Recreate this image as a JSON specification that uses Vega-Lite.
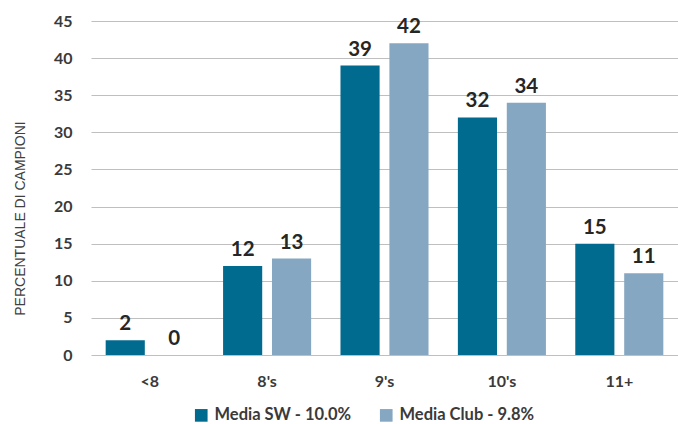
{
  "$schema": "https://vega.github.io/schema/vega-lite/v6.json",
  "width": 587,
  "height": 334,
  "autosize": {"type": "none"},
  "padding": {"left": 91, "top": 21, "right": 0, "bottom": 69},
  "background": "white",
  "config": {
    "view": {"stroke": null},
    "font": "Lato"
  },
  "data": {
    "values": [
      {"cat": "<8", "series": "Media SW - 10.0%", "value": 2},
      {"cat": "<8", "series": "Media Club - 9.8%", "value": 0},
      {"cat": "8's", "series": "Media SW - 10.0%", "value": 12},
      {"cat": "8's", "series": "Media Club - 9.8%", "value": 13},
      {"cat": "9's", "series": "Media SW - 10.0%", "value": 39},
      {"cat": "9's", "series": "Media Club - 9.8%", "value": 42},
      {"cat": "10's", "series": "Media SW - 10.0%", "value": 32},
      {"cat": "10's", "series": "Media Club - 9.8%", "value": 34},
      {"cat": "11+", "series": "Media SW - 10.0%", "value": 15},
      {"cat": "11+", "series": "Media Club - 9.8%", "value": 11}
    ]
  },
  "encoding": {
    "x": {
      "field": "cat",
      "type": "nominal",
      "sort": ["<8", "8's", "9's", "10's", "11+"],
      "scale": {"paddingInner": 0.25, "paddingOuter": 0.125},
      "axis": {
        "title": null,
        "labelAngle": 0,
        "domain": false,
        "ticks": false,
        "labelPadding": 18,
        "labelFontSize": 16,
        "labelFontWeight": "bold",
        "labelColor": "#3a3a3a",
        "labelFont": "Lato"
      }
    },
    "xOffset": {
      "field": "series",
      "sort": ["Media SW - 10.0%", "Media Club - 9.8%"],
      "scale": {"paddingInner": 0.2, "paddingOuter": 0}
    },
    "y": {
      "field": "value",
      "type": "quantitative",
      "scale": {"domain": [0, 45], "nice": false},
      "axis": {
        "title": "PERCENTUALE DI CAMPIONI",
        "titleFont": "Liberation Sans",
        "titleFontSize": 14,
        "titleFontWeight": "normal",
        "titleColor": "#404040",
        "titleAngle": -90,
        "titleX": -67,
        "titleY": 197,
        "titleAlign": "center",
        "titleBaseline": "alphabetic",
        "values": [0, 5, 10, 15, 20, 25, 30, 35, 40, 45],
        "domain": false,
        "ticks": false,
        "grid": true,
        "gridColor": "#bfbfbf",
        "gridWidth": 1,
        "labelPadding": 19,
        "labelFontSize": 16,
        "labelFontWeight": "bold",
        "labelColor": "#3a3a3a",
        "labelFont": "Lato"
      }
    }
  },
  "layer": [
    {
      "mark": {"type": "bar"},
      "encoding": {
        "color": {
          "field": "series",
          "type": "nominal",
          "sort": ["Media SW - 10.0%", "Media Club - 9.8%"],
          "scale": {
            "domain": ["Media SW - 10.0%", "Media Club - 9.8%"],
            "range": ["#016a8f", "#86a7c2"]
          },
          "legend": {
            "title": null,
            "orient": "none",
            "direction": "horizontal",
            "legendX": 102,
            "legendY": 386,
            "symbolType": "square",
            "symbolSize": 160,
            "symbolStrokeWidth": 0,
            "labelFontSize": 16.5,
            "labelFontWeight": "bold",
            "labelColor": "#3a3a3a",
            "labelFont": "Lato",
            "labelOffset": 5,
            "columnPadding": 26
          }
        }
      }
    },
    {
      "mark": {
        "type": "text",
        "baseline": "alphabetic",
        "dy": -10,
        "fontSize": 20.5,
        "fontWeight": "bold",
        "color": "#262626",
        "font": "Lato"
      },
      "encoding": {
        "text": {"field": "value", "type": "quantitative"}
      }
    }
  ]
}
